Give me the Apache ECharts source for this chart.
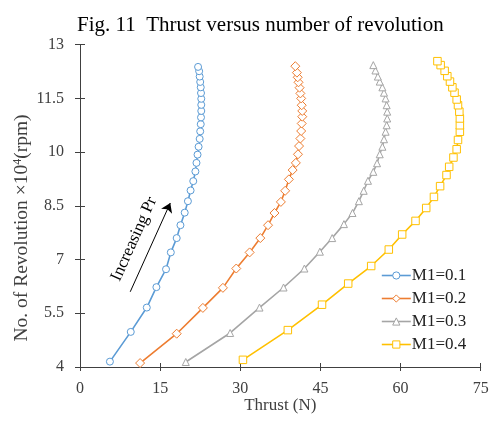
<!DOCTYPE html>
<html>
<head>
<meta charset="utf-8">
<script src="https://cdn.jsdelivr.net/npm/echarts@6/dist/echarts.min.js"></script>
<style>
html,body{margin:0;padding:0;background:#fff;}
#chart{width:491px;height:422px;}
</style>
</head>
<body>
<div id="chart"></div>
<script>
// ---- Data ----
const seriesNames = ['M1=0.1', 'M1=0.2', 'M1=0.3', 'M1=0.4'];

// Thrust (N) values, bottom to top
const thrustM01 = [5.6, 9.5, 12.5, 14.3, 16.1, 17.0, 18.1, 18.8, 19.6, 20.2, 20.7, 21.2, 21.6, 21.8, 22.0, 22.2, 22.4, 22.5, 22.6, 22.65, 22.7, 22.7, 22.7, 22.65, 22.6, 22.5, 22.4, 22.3, 22.1];
const thrustM02 = [11.25, 18.1, 23.0, 26.75, 29.25, 31.75, 33.75, 35.2, 36.4, 37.6, 38.4, 39.1, 39.8, 40.4, 40.8, 41.0, 41.25, 41.4, 41.5, 41.6, 41.6, 41.5, 41.4, 41.25, 41.1, 40.9, 40.75, 40.6, 40.3];
const thrustM03 = [19.8, 28.1, 33.6, 38.1, 42.0, 44.9, 47.2, 49.4, 51.0, 52.2, 53.1, 53.9, 54.9, 55.6, 56.1, 56.6, 56.9, 57.2, 57.4, 57.5, 57.5, 57.4, 57.2, 56.9, 56.6, 56.1, 55.75, 55.3, 54.9];
const thrustM04 = [30.5, 38.9, 45.3, 50.2, 54.5, 57.8, 60.3, 62.8, 64.8, 66.25, 67.4, 68.6, 69.1, 69.9, 70.5, 70.75, 71.1, 71.1, 71.1, 71.0, 70.75, 70.5, 70.1, 69.7, 69.25, 68.75, 68.25, 67.5, 66.9];

// No. of revolution (x10^4 rpm) values, bottom to top
const revM01 = [4.15, 4.98, 5.66, 6.23, 6.73, 7.2, 7.6, 7.96, 8.31, 8.63, 8.93, 9.19, 9.46, 9.70, 9.93, 10.15, 10.37, 10.58, 10.78, 10.97, 11.15, 11.32, 11.49, 11.65, 11.81, 11.96, 12.11, 12.26, 12.38];
const revM02 = [4.11, 4.93, 5.65, 6.21, 6.75, 7.2, 7.6, 7.96, 8.3, 8.61, 8.92, 9.24, 9.5, 9.7, 9.94, 10.17, 10.38, 10.59, 10.8, 10.99, 11.15, 11.31, 11.5, 11.64, 11.8, 11.95, 12.09, 12.22, 12.40];
const revM03 = [4.14, 4.95, 5.66, 6.22, 6.75, 7.22, 7.6, 7.99, 8.30, 8.63, 8.92, 9.2, 9.45, 9.69, 9.94, 10.15, 10.36, 10.57, 10.75, 10.94, 11.13, 11.31, 11.5, 11.66, 11.81, 11.97, 12.11, 12.28, 12.43];
const revM04 = [4.2, 5.03, 5.74, 6.33, 6.82, 7.28, 7.70, 8.08, 8.44, 8.75, 9.05, 9.36, 9.59, 9.85, 10.08, 10.34, 10.57, 10.75, 10.94, 11.13, 11.31, 11.47, 11.66, 11.81, 11.97, 12.12, 12.27, 12.43, 12.54];

const xTicks = [0, 15, 30, 45, 60, 75];
const yTicks = [4, 5.5, 7, 8.5, 10, 11.5, 13];

// Annotation arrow (data coordinates): tail and head
const arrowTail = [9.4, 6.1];
const arrowHead = [16.9, 8.58];

// ---- Chart ----
const serif = '"Liberation Serif", "Times New Roman", serif';
const axisColor = '#404040';
const colors = ['#5B9BD5', '#ED7D31', '#A5A5A5', '#FFC000'];
const symbols = ['circle', 'diamond', 'triangle', 'rect'];
const symbolSizes = [7, 9, 7, 7.5];
const thrusts = [thrustM01, thrustM02, thrustM03, thrustM04];
const revs = [revM01, revM02, revM03, revM04];

const zip = (xs, ys) => xs.map((x, i) => [x, ys[i]]);

const series = seriesNames.map((name, k) => ({
  name: name,
  type: 'line',
  xAxisIndex: 0,
  yAxisIndex: 0,
  data: zip(thrusts[k], revs[k]),
  symbol: symbols[k],
  symbolSize: symbolSizes[k],
  showAllSymbol: true,
  lineStyle: { width: 1.6, color: colors[k] },
  itemStyle: { color: '#fff', borderColor: colors[k], borderWidth: 1 },
  emphasis: { disabled: true },
  animation: false,
  z: 3 + k
}));

series[0].markLine = {
  silent: true,
  animation: false,
  symbol: ['none', 'arrow'],
  symbolSize: 9,
  label: { show: false },
  lineStyle: { color: '#000', width: 1, type: 'solid' },
  itemStyle: { color: '#000' },
  data: [[{ coord: arrowTail }, { coord: arrowHead }]]
};

const baseX = {
  type: 'value', min: xTicks[0], max: xTicks[xTicks.length - 1], interval: 15,
  splitLine: { show: false }, gridIndex: 0, position: 'bottom'
};
const baseY = {
  type: 'value', min: yTicks[0], max: yTicks[yTicks.length - 1], interval: 1.5,
  splitLine: { show: false }, gridIndex: 0, position: 'left'
};

const option = {
  animation: false,
  backgroundColor: '#fff',
  title: {
    text: 'Fig. 11  Thrust versus number of revolution',
    left: 72, top: 10,
    textStyle: { fontFamily: serif, fontSize: 21, fontWeight: 'normal', color: '#000' }
  },
  grid: { left: 80, right: 10.3, top: 44.7, bottom: 55, containLabel: false, outerBoundsMode: 'none' },
  xAxis: [
    Object.assign({}, baseX, {
      axisLine: { show: true, lineStyle: { color: axisColor, width: 1 } },
      axisTick: { show: true, inside: false, length: 4, lineStyle: { color: axisColor }, customValues: xTicks },
      axisLabel: { show: true, margin: 14, fontFamily: serif, fontSize: 16, color: axisColor, customValues: xTicks },
      name: 'Thrust (N)', nameLocation: 'middle', nameGap: 30, nameMoveOverlap: false,
      nameTextStyle: { fontFamily: serif, fontSize: 17, color: axisColor }
    }),
    Object.assign({}, baseX, {
      axisLine: { show: false },
      axisTick: { show: true, inside: true, length: 4, lineStyle: { color: axisColor }, customValues: xTicks },
      axisLabel: { show: false }
    })
  ],
  yAxis: [
    Object.assign({}, baseY, {
      axisLine: { show: true, lineStyle: { color: axisColor, width: 1 } },
      axisTick: { show: true, inside: false, length: 5, lineStyle: { color: axisColor }, customValues: yTicks },
      axisLabel: { show: true, margin: 16, fontFamily: serif, fontSize: 16, color: axisColor, customValues: yTicks }
    }),
    Object.assign({}, baseY, {
      axisLine: { show: false },
      axisTick: { show: true, inside: true, length: 5, lineStyle: { color: axisColor }, customValues: yTicks },
      axisLabel: { show: false }
    })
  ],
  legend: {
    orient: 'vertical',
    left: 376, top: 262,
    itemWidth: 29, itemHeight: 9, itemGap: 6,
    data: seriesNames,
    itemStyle: { borderWidth: 1 },
    lineStyle: { width: 1.6 },
    textStyle: { fontFamily: serif, fontSize: 17, color: '#222', padding: [0, 0, 0, -4] }
  },
  graphic: [
    {
      type: 'text',
      x: 22, y: 228,
      rotation: Math.PI / 2,
      style: {
        text: 'No. of Revolution ×10{sup|4}(rpm)',
        font: '19.5px ' + serif,
        fill: axisColor,
        textAlign: 'center',
        textVerticalAlign: 'middle',
        rich: { sup: { fontSize: 12, fontFamily: serif, verticalAlign: 'top', fill: axisColor } }
      }
    },
    {
      type: 'text',
      x: 134, y: 239,
      rotation: 65.8 * Math.PI / 180,
      style: {
        text: 'Increasing Pr',
        font: '17px ' + serif,
        fill: '#000',
        textAlign: 'center',
        textVerticalAlign: 'middle'
      }
    }
  ],
  series: series
};

const chart = echarts.init(document.getElementById('chart'), null, { renderer: 'canvas' });
chart.setOption(option);
</script>
</body>
</html>
